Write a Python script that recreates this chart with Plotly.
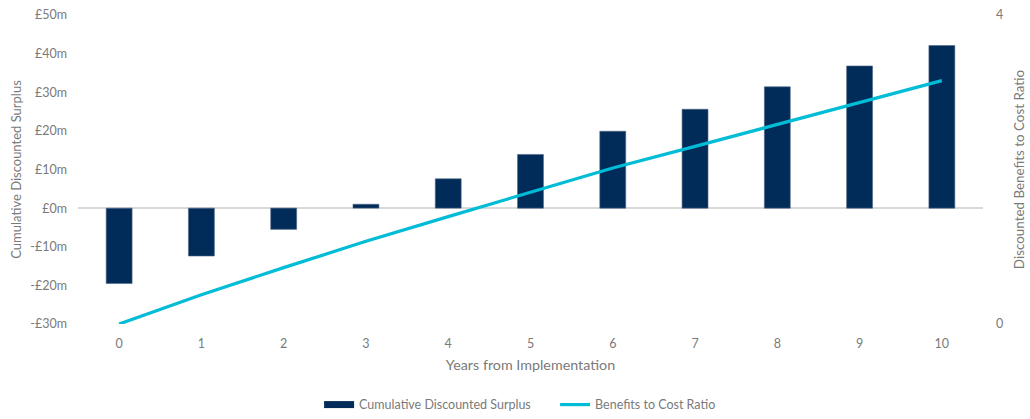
import plotly.graph_objects as go

years = [0, 1, 2, 3, 4, 5, 6, 7, 8, 9, 10]
surplus = [-19.5, -12.4, -5.5, 1.0, 7.6, 13.9, 19.9, 25.6, 31.4, 36.8, 42.1]
bcr = [0.0, 0.38, 0.73, 1.07, 1.39, 1.70, 2.02, 2.30, 2.58, 2.86, 3.15]
left_ticks = [-30, -20, -10, 0, 10, 20, 30, 40, 50]
left_labels = ["-£30m", "-£20m", "-£10m", "£0m", "£10m", "£20m", "£30m", "£40m", "£50m"]
right_ticks = [0, 4]

FONT = "Lato"
GRAY = "#7a7a7a"
NAVY = "#012c5a"
CYAN = "#00bcd6"

fig = go.Figure()
fig.add_trace(go.Bar(
    x=years, y=surplus, name="Cumulative Discounted Surplus",
    marker=dict(color=NAVY, line=dict(color="#4f6585", width=0.6)),
    yaxis="y", showlegend=False,
))
# legend proxy for the bar series (wide rectangular swatch)
fig.add_trace(go.Scatter(
    x=[None], y=[None], name="Cumulative Discounted Surplus", mode="lines",
    line=dict(color=NAVY, width=7), showlegend=True,
))
fig.add_trace(go.Scatter(
    x=years, y=bcr, name="Benefits to Cost Ratio", mode="lines",
    line=dict(color=CYAN, width=3.2),
    yaxis="y2",
))

fig.update_layout(
    width=1030, height=419,
    margin=dict(l=78, r=47, t=15, b=95, autoexpand=False),
    paper_bgcolor="white", plot_bgcolor="white",
    font=dict(family=FONT, size=12.5, color=GRAY),
    bargap=0.685,
    showlegend=True,
    legend=dict(orientation="h", x=0.2664, xanchor="left", y=-0.262, yanchor="middle",
                font=dict(size=12.5, color=GRAY), entrywidth=191, entrywidthmode="pixels",
                traceorder="normal", bgcolor="rgba(0,0,0,0)"),
    xaxis=dict(
        type="linear", range=[-0.5, 10.5], tickvals=years, ticktext=[str(y) for y in years],
        showgrid=False, zeroline=False, showline=False, ticks="", automargin=False,
        ticklabelstandoff=10,
        title=dict(text="Years from Implementation", font=dict(size=14.3, color=GRAY), standoff=10),
        tickfont=dict(size=12.5, color=GRAY),
    ),
    yaxis=dict(
        range=[-30, 50], tickvals=left_ticks, ticktext=left_labels,
        showgrid=False, zeroline=True, zerolinecolor="#d9d9d9", zerolinewidth=1.5,
        showline=False, ticks="", automargin=False, ticklabelstandoff=10,
        title=dict(text="Cumulative Discounted Surplus", font=dict(size=13, color=GRAY), standoff=5),
        tickfont=dict(size=12.5, color=GRAY),
    ),
    yaxis2=dict(
        range=[0, 4], tickvals=right_ticks, overlaying="y", side="right",
        showgrid=False, zeroline=False, showline=False, ticks="", automargin=False,
        ticklabelstandoff=12,
        title=dict(text="Discounted Benefits to Cost Ratio", font=dict(size=13.4, color=GRAY), standoff=12),
        tickfont=dict(size=12.5, color=GRAY),
    ),
)

fig.write_html("out.html")
